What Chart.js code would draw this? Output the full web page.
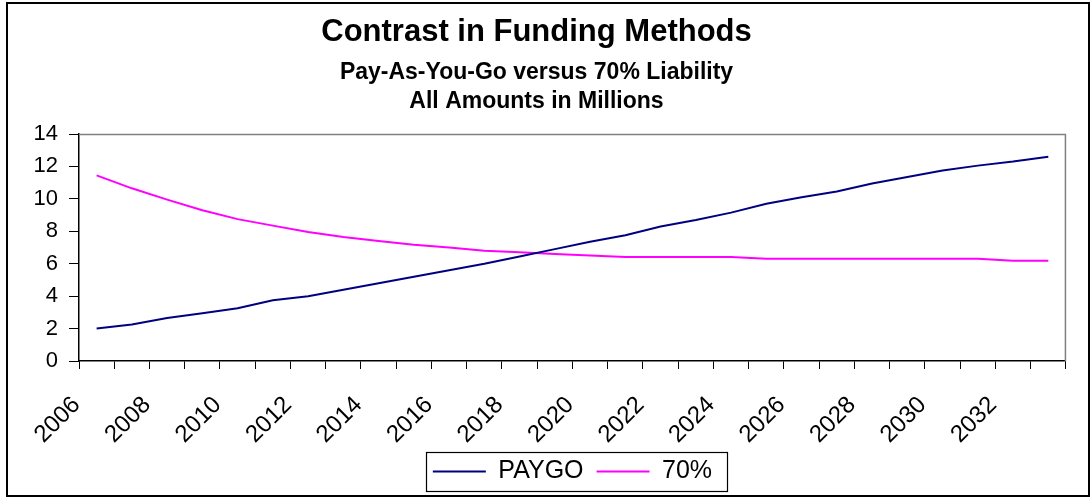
<!DOCTYPE html>
<html>
<head>
<meta charset="utf-8">
<script src="https://cdn.jsdelivr.net/npm/chart.js@4/dist/chart.umd.min.js"></script>
<style>
  html, body { margin: 0; padding: 0; background: #fff; overflow: hidden; }
  #wrap { position: relative; width: 1091px; height: 499px; }
  #frame { position: absolute; left: 6px; top: 2px; width: 1080px; height: 491px;
           border: 2px solid #000; pointer-events: none; }
</style>
</head>
<body>
<div id="wrap">
  <canvas id="chart" width="1091" height="499"></canvas>
  <div id="frame"></div>
</div>
<script>
// ---- data ----
const years = ['2006','2007','2008','2009','2010','2011','2012','2013','2014','2015',
  '2016','2017','2018','2019','2020','2021','2022','2023','2024','2025',
  '2026','2027','2028','2029','2030','2031','2032','2033'];

const paygo = [2.0, 2.25, 2.65, 2.95, 3.25, 3.75, 4.0, 4.4, 4.8, 5.2,
  5.6, 6.0, 6.45, 6.9, 7.35, 7.75, 8.3, 8.7, 9.15, 9.7,
  10.1, 10.45, 10.95, 11.35, 11.75, 12.05, 12.3, 12.6];

const liability70 = [11.45, 10.65, 9.95, 9.3, 8.75, 8.35, 7.95, 7.65, 7.4, 7.17,
  7.0, 6.8, 6.7, 6.6, 6.5, 6.42, 6.42, 6.42, 6.42, 6.3,
  6.3, 6.3, 6.3, 6.3, 6.3, 6.3, 6.18, 6.18];

const yTicks = [0, 2, 4, 6, 8, 10, 12, 14];

const FONT = '"Liberation Sans", Arial, sans-serif';

// gray top/right edge of the plot area + box around the legend
Chart.register({
  id: 'excelFrame',
  beforeDatasetsDraw(chart) {
    const { ctx, chartArea: a } = chart;
    ctx.save();
    ctx.strokeStyle = '#808080';
    ctx.lineWidth = 1.5;
    ctx.beginPath();
    ctx.moveTo(a.left, a.top + 0.5);
    ctx.lineTo(a.right - 0.5, a.top + 0.5);
    ctx.lineTo(a.right - 0.5, a.bottom);
    ctx.stroke();
    ctx.restore();
  },
  afterDraw(chart) {
    const lg = chart.legend;
    if (!lg || !lg.legendHitBoxes.length) return;
    const boxes = lg.legendHitBoxes;
    const left = Math.min(...boxes.map(b => b.left)) - 7;
    const right = Math.max(...boxes.map(b => b.left + b.width)) + 15;
    const top = boxes[0].top - 7;
    const bottom = boxes[0].top + boxes[0].height + 7;
    const ctx = chart.ctx;
    ctx.save();
    ctx.strokeStyle = '#000';
    ctx.lineWidth = 1.2;
    ctx.strokeRect(Math.round(left) + 0.5, Math.round(top) + 0.5,
      Math.round(right - left), Math.round(bottom - top));
    ctx.restore();
  }
});

new Chart(document.getElementById('chart'), {
  type: 'line',
  data: {
    labels: years,
    datasets: [
      { label: 'PAYGO', data: paygo, borderColor: '#000080', backgroundColor: '#000080',
        borderWidth: 2, pointRadius: 0, tension: 0 },
      { label: '70%', data: liability70, borderColor: '#FF00FF', backgroundColor: '#FF00FF',
        borderWidth: 2, pointRadius: 0, tension: 0 },
    ],
  },
  options: {
    responsive: false,
    animation: false,
    devicePixelRatio: 1,
    layout: { padding: { left: 0, right: 18, top: 0, bottom: 5 } },
    plugins: {
      title: {
        display: true,
        text: 'Contrast in Funding Methods',
        color: '#000',
        font: { family: FONT, size: 31, weight: 'bold', lineHeight: 1.2 },
        padding: { top: 14, bottom: 3.8 },
      },
      subtitle: {
        display: true,
        text: ['Pay-As-You-Go versus 70% Liability', 'All Amounts in Millions'],
        color: '#000',
        font: { family: FONT, size: 23, weight: 'bold', lineHeight: 29 / 23 },
        padding: { top: 3, bottom: 18 },
      },
      legend: {
        position: 'bottom',
        fullSize: false,
        labels: {
          color: '#000',
          font: { family: FONT, size: 25 },
          usePointStyle: true,
          pointStyle: 'line',
          pointStyleWidth: 53,
          padding: 13,
        },
      },
      tooltip: { enabled: false },
    },
    scales: {
      x: {
        type: 'category',
        offset: true,
        afterFit: s => { s.height = 85; },
        grid: { offset: true, drawOnChartArea: false, drawTicks: true,
                tickLength: 8, tickColor: '#000', tickWidth: 1 },
        border: { color: '#000', width: 1.5 },
        ticks: {
          autoSkip: false,
          maxRotation: 45, minRotation: 45,
          labelOffset: -20,
          padding: 22,
          color: '#000',
          font: { family: FONT, size: 24 },
          callback: (v, i) => (i % 2 === 0 ? years[i] : ''),
        },
      },
      y: {
        min: yTicks[0],
        max: yTicks[yTicks.length - 1],
        afterFit: s => { s.width = 79; },
        grid: { drawOnChartArea: false, drawTicks: true,
                tickLength: 10, tickColor: '#000', tickWidth: 1 },
        border: { color: '#000', width: 1.5 },
        afterBuildTicks: s => { s.ticks = yTicks.map(v => ({ value: v })); },
        ticks: {
          padding: 11,
          color: '#000',
          font: { family: FONT, size: 22 },
        },
      },
    },
  },
});
</script>
</body>
</html>
